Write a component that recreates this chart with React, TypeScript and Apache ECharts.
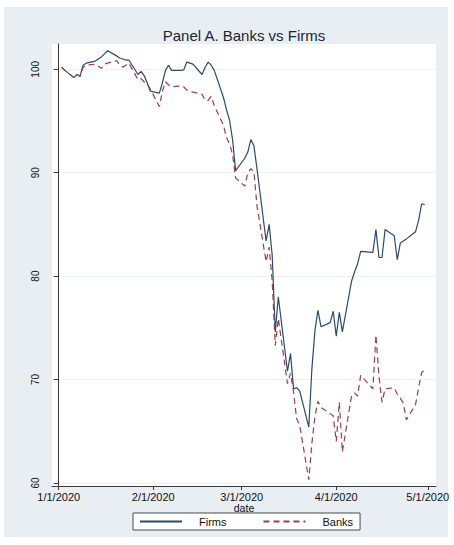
import React, { useEffect, useRef } from "react";
import * as echarts from "echarts";

// Trading days, Jan–Apr 2020
const tradingDays: string[] = [
  "2020-01-02", "2020-01-03", "2020-01-06", "2020-01-07", "2020-01-08", "2020-01-09", "2020-01-10",
  "2020-01-13", "2020-01-14", "2020-01-15", "2020-01-16", "2020-01-17", "2020-01-20", "2020-01-21",
  "2020-01-22", "2020-01-23", "2020-01-24", "2020-01-27", "2020-01-28", "2020-01-29", "2020-01-30",
  "2020-01-31",
  "2020-02-03", "2020-02-04", "2020-02-05", "2020-02-06", "2020-02-07", "2020-02-10", "2020-02-11",
  "2020-02-12", "2020-02-13", "2020-02-14", "2020-02-17", "2020-02-18", "2020-02-19", "2020-02-20",
  "2020-02-21", "2020-02-24", "2020-02-25", "2020-02-26", "2020-02-27", "2020-02-28",
  "2020-03-02", "2020-03-03", "2020-03-04", "2020-03-05", "2020-03-06", "2020-03-09", "2020-03-10",
  "2020-03-11", "2020-03-12", "2020-03-13", "2020-03-16", "2020-03-17", "2020-03-18", "2020-03-19",
  "2020-03-20", "2020-03-23", "2020-03-24", "2020-03-25", "2020-03-26", "2020-03-27", "2020-03-30",
  "2020-03-31",
  "2020-04-01", "2020-04-02", "2020-04-03", "2020-04-06", "2020-04-07", "2020-04-08", "2020-04-09",
  "2020-04-13", "2020-04-14", "2020-04-15", "2020-04-16", "2020-04-17", "2020-04-20", "2020-04-21",
  "2020-04-22", "2020-04-23", "2020-04-24", "2020-04-27", "2020-04-28", "2020-04-29", "2020-04-30",
];

// Index levels (Jan 1 = 100)
const firms: number[] = [
  100.2, 99.9, 99.2, 99.5, 99.35, 100.4, 100.6, 100.8, 101.0, 101.2, 101.5, 101.8, 101.3, 101.1,
  101.0, 100.9, 100.9, 99.5, 99.8, 99.4, 98.7, 97.9,
  97.7, 98.7, 99.9, 100.4, 99.9, 99.9, 99.95, 100.7, 100.6, 100.5, 99.5, 100.2, 100.7, 100.4,
  99.9, 97.3, 96.1, 95.1, 93.2, 90.2,
  91.4, 92.0, 93.2, 92.6, 90.4, 83.4, 85.0, 82.0, 74.6, 78.0, 70.8, 72.5, 69.1, 69.2,
  68.9, 65.4, 71.0, 74.7, 76.7, 75.1, 75.5, 76.6,
  74.2, 76.5, 74.6, 79.5, 80.4, 81.2, 82.4, 82.3, 84.5, 81.8, 81.8, 84.5, 83.9, 81.6,
  83.2, 83.4, 83.6, 84.3, 85.4, 87.0, 86.9,
];

const banks: number[] = [
  100.2, 99.9, 99.2, 99.5, 99.3, 100.2, 100.4, 100.5, 100.3, 100.1, 100.5, 100.6, 100.85, 100.4,
  100.2, 100.4, 100.6, 99.0, 99.1, 98.8, 98.6, 98.1,
  96.4, 97.9, 98.8, 98.5, 98.3, 98.4, 98.3, 98.0, 97.9, 97.8, 97.6, 97.0, 97.0, 97.4,
  96.5, 94.6, 93.4, 92.8, 91.8, 89.5,
  88.7, 90.0, 90.4, 90.1, 86.8, 81.4, 82.8, 79.5, 73.3, 75.9, 69.6, 70.6, 68.8, 66.2,
  65.6, 60.3, 63.8, 66.4, 67.9, 67.3, 66.7, 66.5,
  64.0, 67.8, 63.0, 68.4, 68.7, 68.4, 70.4, 69.1, 74.3, 70.3, 67.8, 69.1, 69.2, 68.6,
  68.2, 67.7, 66.1, 67.6, 69.2, 70.7, 70.9,
];

const monthTicks: string[] = ["2020-01-01", "2020-02-01", "2020-03-01", "2020-04-01", "2020-05-01"];
const monthLabels: string[] = ["1/1/2020", "2/1/2020", "3/1/2020", "4/1/2020", "5/1/2020"];
const yTicks: number[] = [60, 70, 80, 90, 100];

const FONT = "'Liberation Sans', Arial, Helvetica, sans-serif";
const DAY = 24 * 3600 * 1000;

// Days elapsed since 1 Jan 2020 (UTC, so no DST drift)
function dayIndex(s: string): number {
  const [y, m, d] = s.split("-").map(Number);
  return Math.round((Date.UTC(y, m - 1, d) - Date.UTC(2020, 0, 1)) / DAY);
}

const tickDays = monthTicks.map(dayIndex);

export default function App() {
  const ref = useRef<HTMLDivElement>(null);

  useEffect(() => {
    if (!ref.current) return;
    const chart = echarts.init(ref.current, null, { renderer: "svg" });

    const option: any = {
      animation: false,
      backgroundColor: "#ffffff",
      textStyle: { fontFamily: FONT },
      graphic: [
        {
          type: "rect",
          z: -100,
          silent: true,
          shape: { x: 4, y: 7, width: 444, height: 530 },
          style: { fill: "#e8eef2" },
        },
        {
          type: "text",
          x: 244,
          y: 35,
          style: {
            text: "Panel A. Banks vs Firms",
            fontFamily: FONT,
            fontSize: 15,
            fill: "#1b2635",
            textAlign: "center",
            textVerticalAlign: "middle",
          },
        },
      ],
      grid: {
        left: 52,
        right: 18,
        top: 44,
        bottom: 59,
        show: true,
        backgroundColor: "#ffffff",
        borderWidth: 0,
      },
      legend: {
        left: 133,
        top: 513,
        itemWidth: 42,
        itemHeight: 10,
        itemGap: 36,
        padding: [3, 7, 3, 6],
        backgroundColor: "#ffffff",
        borderColor: "#4a4a4a",
        borderWidth: 1,
        borderRadius: 0,
        itemStyle: { opacity: 0 },
        textStyle: { fontFamily: FONT, fontSize: 11, color: "#111", padding: [0, 0, 0, 12] },
        data: ["Firms", "Banks"],
      },
      xAxis: {
        type: "value",
        min: -2.2,
        max: 123.7,
        name: "date",
        nameLocation: "middle",
        nameGap: 16,
        nameMoveOverlap: false,
        nameTextStyle: { fontFamily: FONT, fontSize: 10.5, color: "#111", verticalAlign: "top" },
        axisLine: { lineStyle: { color: "#3a3a3a", width: 1 } },
        axisTick: {
          show: true,
          length: 4,
          inside: false,
          customValues: tickDays,
          lineStyle: { color: "#3a3a3a" },
        },
        axisLabel: {
          customValues: tickDays,
          margin: 5,
          fontFamily: FONT,
          fontSize: 11,
          color: "#111",
          formatter: (v: number) => {
            const i = tickDays.indexOf(Math.round(v));
            return i >= 0 ? monthLabels[i] : "";
          },
        },
        splitLine: { show: false },
      },
      yAxis: {
        type: "value",
        min: 59.7,
        max: 102.45,
        axisLine: { show: true, lineStyle: { color: "#3a3a3a", width: 1 } },
        axisTick: {
          show: true,
          length: 5,
          inside: false,
          customValues: yTicks,
          lineStyle: { color: "#3a3a3a" },
        },
        axisLabel: {
          customValues: yTicks,
          rotate: 90,
          margin: 12,
          fontFamily: FONT,
          fontSize: 10,
          color: "#111",
        },
        splitLine: { show: true, lineStyle: { color: "#edf2f4", width: 1 } },
      },
      series: [
        {
          name: "Firms",
          type: "line",
          symbol: "none",
          data: tradingDays.map((d, i) => [dayIndex(d), firms[i]]),
          lineStyle: { color: "#2a4a70", width: 1.2 },
          itemStyle: { color: "#2a4a70" },
        },
        {
          name: "Banks",
          type: "line",
          symbol: "none",
          data: tradingDays.map((d, i) => [dayIndex(d), banks[i]]),
          lineStyle: { color: "#9a4048", width: 1.2, type: [6, 4] },
          itemStyle: { color: "#9a4048" },
        },
      ],
    };

    chart.setOption(option);
    return () => chart.dispose();
  }, []);

  return (
    <div
      ref={ref}
      style={{ position: "fixed", left: 0, top: 0, width: 454, height: 545 }}
    />
  );
}
